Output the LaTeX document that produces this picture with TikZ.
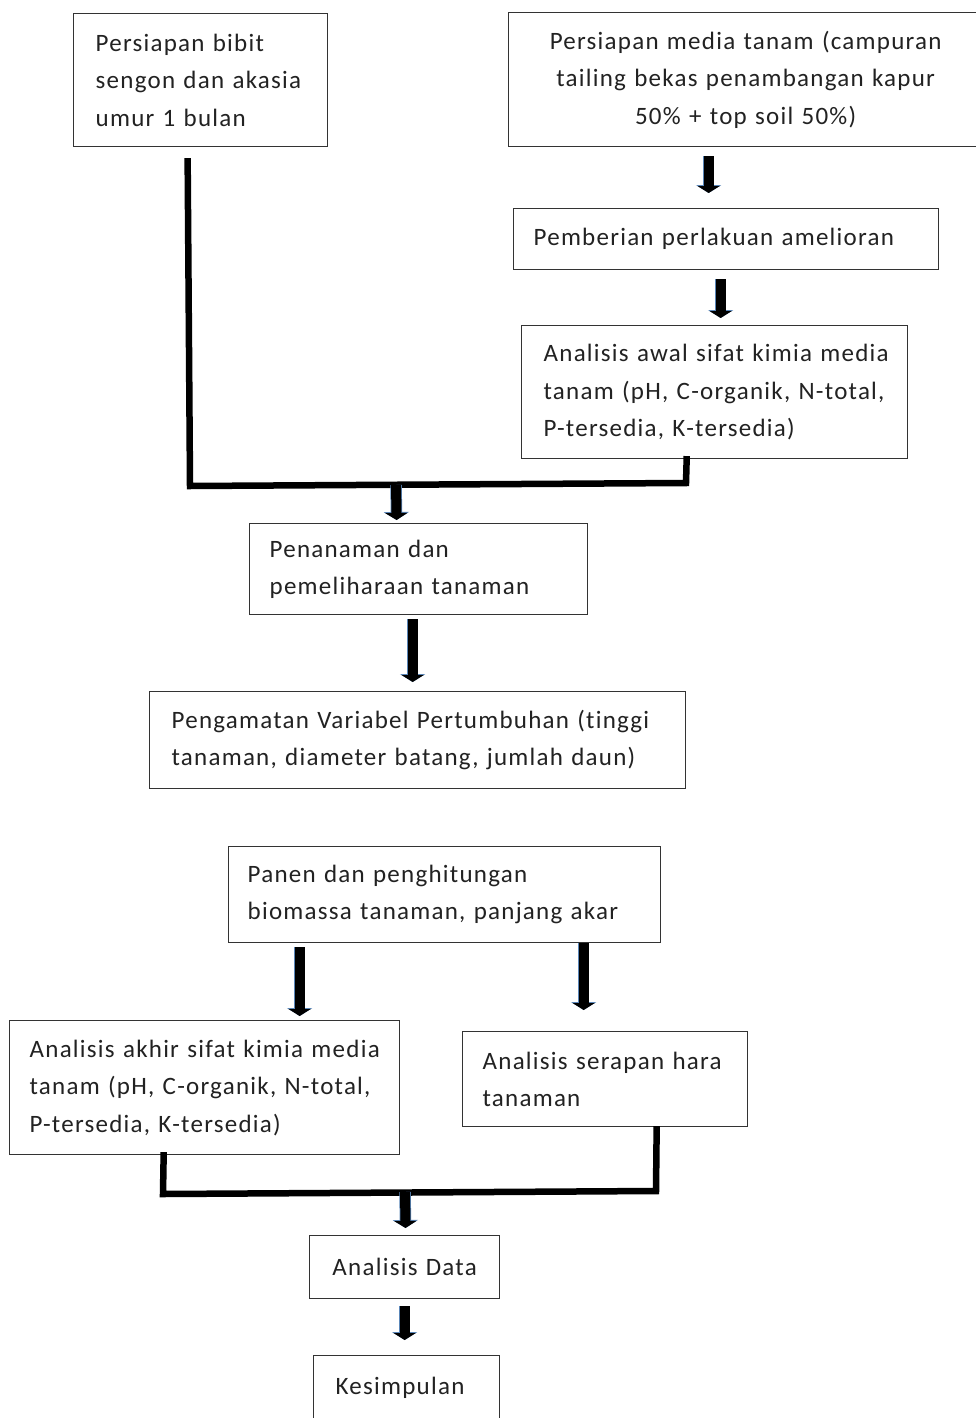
\documentclass[tikz,border=0pt]{standalone}
\usepackage{fontspec}
\setmainfont{Carlito}[LetterSpace=5, Ligatures={NoCommon}]
\usetikzlibrary{arrows.meta}
\definecolor{boxgray}{HTML}{333333}
\definecolor{txtgray}{HTML}{222222}
\definecolor{arrowblue}{HTML}{5A86B8}
\begin{document}
\begin{tikzpicture}[x=1pt,y=-1pt,
  box/.style={draw=boxgray, line width=1.3pt, rectangle, anchor=north west,
    inner ysep=0pt, text=txtgray, align=left,
    font=\fontsize{25}{37.5}\selectfont},
  cbox/.style={box, align=center},
  bigarrow/.style={line width=10pt, black, -{Triangle[width=22pt,length=7pt]},
    preaction={draw=arrowblue, line width=11.5pt, -{Triangle[width=25pt,length=8pt]}}},
  thickline/.style={line width=6.5pt, black, line join=miter, line cap=rect}]
\clip (0,0) rectangle (976,1418);
\fill[white] (0,0) rectangle (976,1418);

% boxes
\node[box, minimum width=254pt, minimum height=133pt, text width=210pt, inner xsep=22pt] (A) at (73,13)
  {\mbox{Persiapan bibit}\\\mbox{sengon dan akasia}\\\mbox{umur 1 bulan}};
\node[cbox, minimum width=474pt, minimum height=134pt, text width=454pt, inner xsep=10pt] (B) at (508,12)
  {\mbox{Persiapan media tanam (campuran}\\\mbox{tailing bekas penambangan kapur}\\\mbox{50\% + top soil 50\%)}};
\node[box, minimum width=425pt, minimum height=61pt, text width=385pt, inner xsep=20pt] (C) at (513,208)
  {\mbox{Pemberian perlakuan amelioran}};
\node[box, minimum width=386pt, minimum height=133pt, text width=342pt, inner xsep=22pt] (D) at (521,325)
  {\mbox{Analisis awal sifat kimia media}\\\mbox{tanam (pH, C-organik, N-total,}\\\mbox{P-tersedia, K-tersedia)}};
\node[box, minimum width=338pt, minimum height=91pt, text width=298pt, inner xsep=20pt] (E) at (249,523)
  {\mbox{Penanaman dan}\\\mbox{pemeliharaan tanaman}};
\node[box, minimum width=536pt, minimum height=97pt, text width=492pt, inner xsep=22pt] (F) at (149,691)
  {\mbox{Pengamatan Variabel Pertumbuhan (tinggi}\\\mbox{tanaman, diameter batang, jumlah daun)}};
\node[box, minimum width=432pt, minimum height=96pt, text width=394pt, inner xsep=19pt] (G) at (228,846)
  {\mbox{Panen dan penghitungan}\\\mbox{biomassa tanaman, panjang akar}};
\node[box, minimum width=390pt, minimum height=134pt, text width=350pt, inner xsep=20pt] (H) at (9,1020)
  {\mbox{Analisis akhir sifat kimia media}\\\mbox{tanam (pH, C-organik, N-total,}\\\mbox{P-tersedia, K-tersedia)}};
\node[box, minimum width=285pt, minimum height=95pt, text width=245pt, inner xsep=20pt] (I) at (462,1031)
  {\mbox{Analisis serapan hara}\\\mbox{tanaman}};
\node[cbox, minimum width=190pt, minimum height=63pt, text width=170pt, inner xsep=10pt] (J) at (309,1235)
  {\mbox{Analisis Data}};
\node[box, minimum width=186pt, minimum height=65pt, text width=142pt, inner xsep=22pt] (K) at (313,1355)
  {\mbox{Kesimpulan}};

% junction coordinates
\coordinate (ja) at (190,486);
\coordinate (jb) at (686,483);
\coordinate (m1) at (396,485);
\coordinate (jc) at (163,1194);
\coordinate (jd) at (656,1191);
\coordinate (m2) at (405,1192);

% thick joining lines
\draw[thickline] ([xshift=-13pt,yshift=-14pt]A.south) -- (ja) -- (jb) -- ([xshift=-28pt]D.south);
\draw[thickline] ([xshift=-41pt]H.south) -- (jc) -- (jd) -- ([xshift=51.5pt,yshift=-2pt]I.south);

% block arrows
\draw[bigarrow, shorten <=9pt, shorten >=15pt] ([xshift=-37pt]B.south) -- ([xshift=-17.5pt]C.north);
\draw[bigarrow, shorten <=9pt, shorten >=7pt] ([xshift=-5.5pt]C.south) -- ([xshift=6pt]D.north);
\draw[bigarrow, shorten >=3pt] (m1) -- ([xshift=-22pt]E.north);
\draw[bigarrow, shorten <=4pt, shorten >=9pt] ([xshift=-6pt]E.south) -- ([xshift=-5pt]F.north);
\draw[bigarrow, shorten <=4pt, shorten >=4pt] ([xshift=-145pt]G.south) -- ([xshift=95pt]H.north);
\draw[bigarrow, shorten >=21pt] ([xshift=139pt]G.south) -- ([xshift=-21.5pt]I.north);
\draw[bigarrow, shorten >=7pt] (m2) -- ([xshift=1pt]J.north);
\draw[bigarrow, shorten <=7pt, shorten >=15pt] (J.south) -- ([xshift=-2pt]K.north);
\end{tikzpicture}
\end{document}
